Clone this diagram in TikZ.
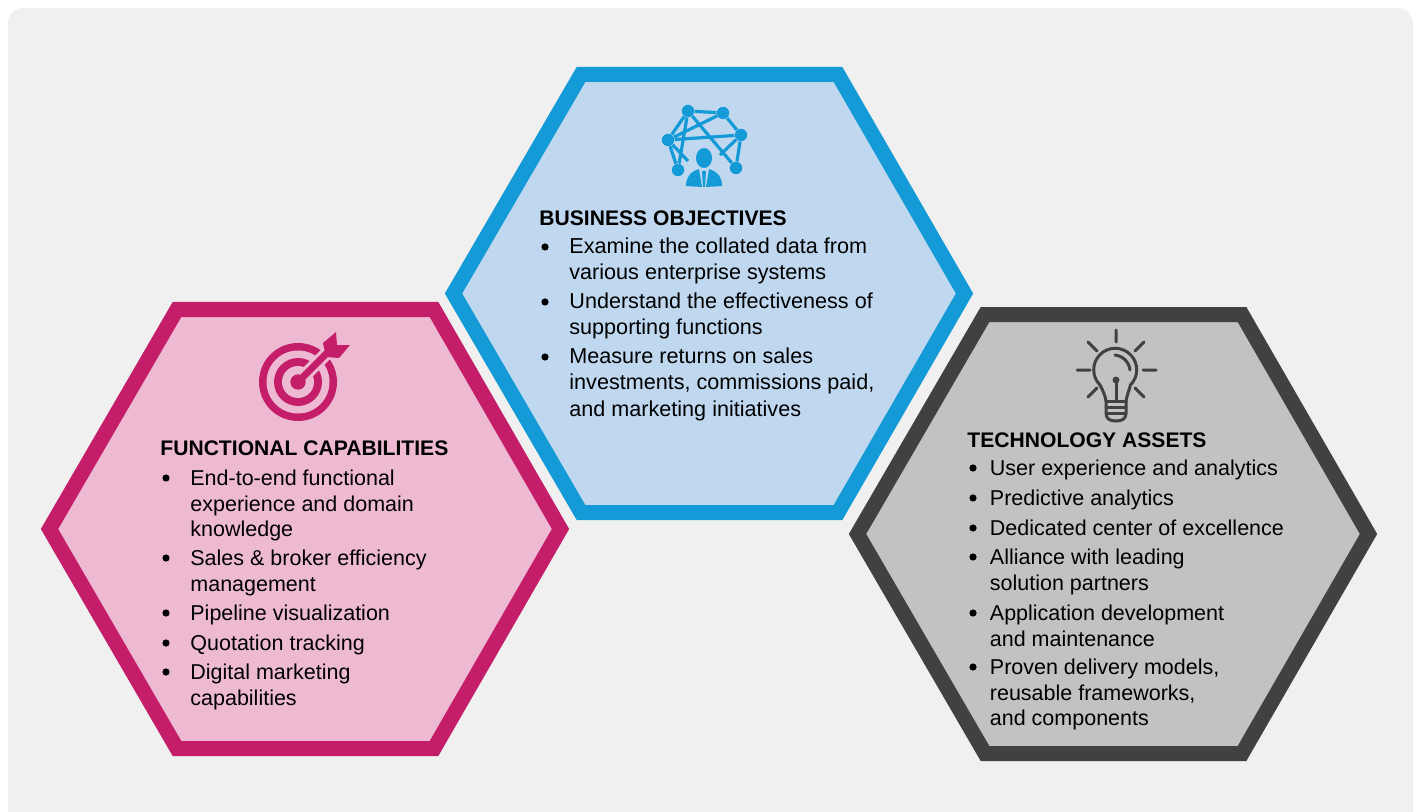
\documentclass[tikz,border=0pt]{standalone}
\usepackage{fontspec}
\setmainfont{Liberation Sans}
\definecolor{panelgray}{HTML}{F0F0F0}
\definecolor{bizline}{HTML}{149BD7}
\definecolor{bizfill}{HTML}{BFD7EF}
\definecolor{funcline}{HTML}{C41E6B}
\definecolor{funcfill}{HTML}{EEBAD1}
\definecolor{techline}{HTML}{414042}
\definecolor{techfill}{HTML}{C1C2C4}
\tikzset{
    hexa/.style={line width=7.5pt, line join=miter, miter limit=10},
    headtxt/.style={anchor=base west, inner sep=0pt, font=\fontsize{10.55}{12.75}\selectfont\bfseries},
    itemtxt/.style={anchor=north west, inner sep=0pt, align=left, yshift=8.925pt,
        font=\fontsize{10.75}{12.75}\selectfont, execute at begin node=\strut},
    bizitem/.style={itemtxt, font=\fontsize{10.8}{13.15}\selectfont},
    bulletmark/.style={circle, fill=black, inner sep=0pt, minimum size=3.6pt, yshift=3.5pt},
    netdot/.style={circle, fill=bizline, inner sep=0pt, minimum size=6.2pt},
    netline/.style={draw=bizline, line width=1.6pt},
    bulbline/.style={draw=techline, line width=1.5pt, line cap=round}
}
\begin{document}
\begin{tikzpicture}[x=0.5pt, y=-0.5pt]
\useasboundingbox (0,0) rectangle (1416,812);
\fill[panelgray, rounded corners=7.5pt] (8,8) rectangle (1413,830);

% hexagons
\draw[hexa, draw=bizline, fill=bizfill] (581,74.5) -- (838,74.5) -- (964.5,293.5) -- (838,512.5) -- (581,512.5) -- (453.5,293.5) -- cycle;
\draw[hexa, draw=funcline, fill=funcfill] (177,309.5) -- (434,309.5) -- (560.5,529) -- (434,748.5) -- (177,748.5) -- (49.5,529) -- cycle;
\draw[hexa, draw=techline, fill=techfill] (985,314.5) -- (1242,314.5) -- (1368.5,534) -- (1242,753.5) -- (985,753.5) -- (857.5,534) -- cycle;

% network icon
\foreach \n/\p in {a/{688,111}, b/{723,113}, c/{741,135}, d/{668,140}, e/{678,170}, f/{736,168}}
    \node[netdot] (net\n) at (\p) {};
\coordinate (netdend) at (688,161);
\coordinate (netcend) at (720,155);
\draw[netline] (neta) -- (netb) (neta) -- (netd) (netb) -- (netd) (netd) -- (netc) (netb) -- (netc)
    (netc) -- (netf) (netd) -- (nete) (neta) -- (nete) (neta) -- (netf) (netd) -- (netdend) (netc) -- (netcend);
\fill[bizline] (704,158) ellipse (8 and 10);
\fill[bizline] (686,186) .. controls (686,177) and (690,172) .. (699,169) -- (702,187) -- cycle;
\fill[bizline] (722,186) .. controls (722,177) and (718,172) .. (709,169) -- (706,187) -- cycle;
\fill[bizline] (702,171) -- (706,171) -- (705,187) -- (703,187) -- cycle;

% target icon
\fill[funcline] (298,382) circle (39);
\fill[funcfill] (298,382) circle (31.5);
\fill[funcline] (298,382) circle (24);
\fill[funcfill] (298,382) circle (16);
\draw[funcfill, line width=6.5pt] (298,382) -- (331,349);
\fill[funcline] (298,382) circle (7.7);
\draw[funcline, line width=3.5pt] (298,382) -- (331,349);
\fill[funcline] (323,343) -- (336,332) -- (337,345) -- (350,345) -- (339,358) -- (326,357) -- cycle;

% bulb icon
\draw[bulbline] (1116,330) -- (1116,342) (1077,370) -- (1090,370) (1143,370) -- (1156,370)
    (1088,342) -- (1097,351) (1144,342) -- (1135,351) (1088,397) -- (1097,388) (1144,397) -- (1135,388);
\draw[bulbline] (1106,401) .. controls (1105,395) and (1103,391) .. (1100,385)
    arc (135:405:21.5) .. controls (1129,391) and (1127,395) .. (1126,401);
\draw[bulbline] (1106,401) -- (1126,401) (1106,407) -- (1126,407) (1106,413) -- (1126,413);
\draw[bulbline] (1106,401) -- (1106,413) .. controls (1106,419) and (1110,421) .. (1116,421)
    .. controls (1122,421) and (1126,419) .. (1126,413) -- (1126,401);
\draw[bulbline] (1116,380) -- (1116,401);
\fill[techline] (1116,380) circle (3.5);
\draw[bulbline] (1115,355) .. controls (1123,356) and (1129,362) .. (1130,370);

% business objectives
\node[headtxt] (bizhead) at (539,226) {BUSINESS OBJECTIVES};
\foreach \n/\y/\t in {1/254/{Examine the collated data from\\various enterprise systems},
                      2/309/{Understand the effectiveness of\\supporting functions},
                      3/364/{Measure returns on sales\\investments, commissions paid,\\and marketing initiatives}}{
    \node[bulletmark] (bizb\n) at (545,\y) {};
    \node[bizitem] (biz\n) at (569,\y+1.2) {\t};
}

% functional capabilities
\node[headtxt] (funchead) at (160,455) {FUNCTIONAL CAPABILITIES};
\foreach \n/\y/\d/\t in {1/485/2.5/{End-to-end functional\\experience and domain\\knowledge},
                      2/565/2.5/{Sales \& broker efficiency\\management},
                      3/620/0/{Pipeline visualization},
                      4/650/0/{Quotation tracking},
                      5/679/2.5/{Digital marketing\\capabilities}}{
    \node[bulletmark] (funcb\n) at (166,\y) {};
    \node[itemtxt] (func\n) at (190,\y+\d) {\t};
}

% technology assets
\node[headtxt] (techhead) at (967,447) {TECHNOLOGY ASSETS};
\foreach \n/\y/\d/\t in {1/475/0/{User experience and analytics},
                      2/505/0/{Predictive analytics},
                      3/535/0/{Dedicated center of excellence},
                      4/564/2.5/{Alliance with leading\\solution partners},
                      5/620/2.5/{Application development\\and maintenance},
                      6/674/2.5/{Proven delivery models,\\reusable frameworks,\\and components}}{
    \node[bulletmark] (techb\n) at (973,\y) {};
    \node[itemtxt] (tech\n) at (989.5,\y+\d) {\t};
}
\end{tikzpicture}
\end{document}
